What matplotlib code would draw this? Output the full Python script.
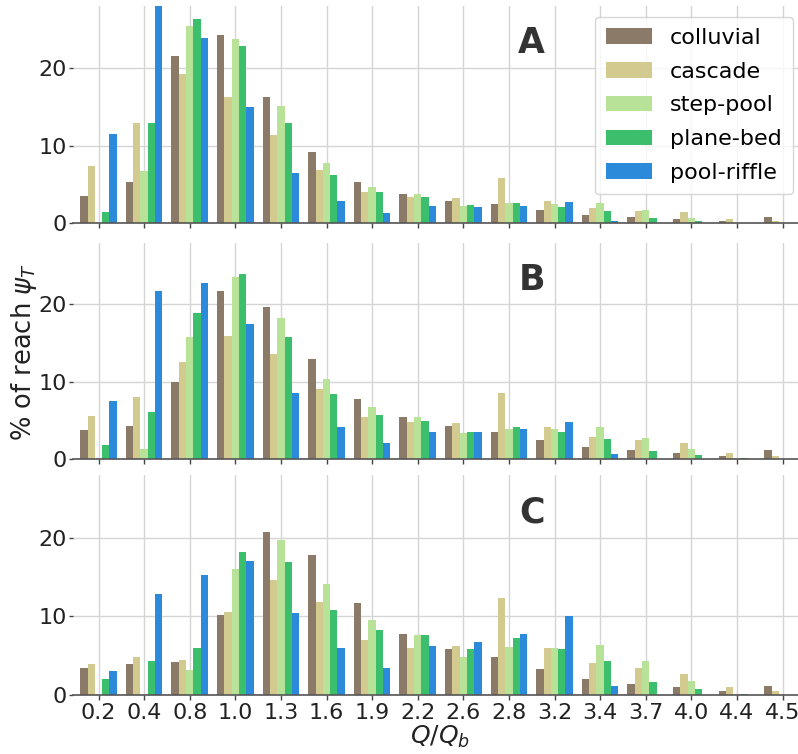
import numpy as np
import matplotlib
matplotlib.use("Agg")
import matplotlib.pyplot as plt

# Discharge classes (Q/Qb) on the shared x axis
categories = ["0.2", "0.4", "0.8", "1.0", "1.3", "1.6", "1.9", "2.2",
              "2.6", "2.8", "3.2", "3.4", "3.7", "4.0", "4.4", "4.5"]
series_names = ["colluvial", "cascade", "step-pool", "plane-bed", "pool-riffle"]
series_colors = ["#8c7a68", "#d3ca8f", "#b7e298", "#3bbf6c", "#2b8ad9"]

# Panel A
a_colluvial = [3.5, 5.3, 21.6, 24.2, 16.2, 9.2, 5.3, 3.7, 2.9, 2.4, 1.7, 1.0, 0.8, 0.55, 0.3, 0.8]
a_cascade = [7.4, 12.9, 19.2, 16.3, 11.4, 6.8, 4.0, 3.4, 3.2, 5.8, 2.8, 1.9, 1.6, 1.4, 0.5, 0.3]
a_step_pool = [0.0, 6.7, 25.4, 23.7, 15.1, 7.7, 4.7, 3.7, 2.2, 2.6, 2.5, 2.6, 1.7, 0.6, 0.0, 0.0]
a_plane_bed = [1.4, 12.9, 26.3, 22.9, 12.9, 6.2, 4.0, 3.3, 2.3, 2.6, 2.1, 1.5, 0.6, 0.3, 0.0, 0.0]
a_pool_riffle = [11.5, 28.8, 23.9, 15.0, 6.5, 2.9, 1.3, 2.2, 2.1, 2.2, 2.7, 0.3, 0.0, 0.0, 0.0, 0.0]

# Panel B
b_colluvial = [3.7, 4.2, 10.0, 21.7, 19.7, 12.9, 7.7, 5.4, 4.2, 3.5, 2.4, 1.5, 1.1, 0.8, 0.4, 1.1]
b_cascade = [5.6, 8.0, 12.6, 15.9, 13.6, 9.0, 5.4, 4.7, 4.6, 8.5, 4.1, 2.8, 2.4, 2.0, 0.8, 0.3]
b_step_pool = [0.0, 1.25, 15.8, 23.6, 18.2, 10.3, 6.7, 5.4, 3.3, 3.9, 3.9, 4.1, 2.7, 1.2, 0.1, 0.0]
b_plane_bed = [1.8, 6.1, 18.9, 23.9, 15.8, 8.4, 5.7, 4.9, 3.5, 4.1, 3.4, 2.5, 1.0, 0.5, 0.1, 0.0]
b_pool_riffle = [7.5, 21.8, 22.8, 17.5, 8.5, 4.1, 2.0, 3.5, 3.5, 3.8, 4.7, 0.6, 0.0, 0.0, 0.0, 0.0]

# Panel C
c_colluvial = [3.4, 4.0, 4.2, 10.2, 20.7, 17.8, 11.7, 7.8, 5.8, 4.9, 3.3, 2.0, 1.4, 1.0, 0.5, 1.2]
c_cascade = [4.0, 4.9, 4.4, 10.6, 14.6, 11.8, 7.0, 6.0, 6.2, 12.4, 6.0, 4.1, 3.4, 2.7, 1.0, 0.5]
c_step_pool = [0.0, 0.0, 3.2, 16.0, 19.7, 14.1, 9.6, 7.7, 4.9, 6.1, 6.0, 6.4, 4.3, 1.8, 0.1, 0.0]
c_plane_bed = [2.0, 4.3, 6.0, 18.2, 16.9, 10.8, 8.3, 7.7, 5.9, 7.2, 5.8, 4.3, 1.6, 0.8, 0.1, 0.0]
c_pool_riffle = [3.1, 12.8, 15.3, 17.1, 10.5, 6.0, 3.4, 6.2, 6.7, 7.8, 10.0, 1.15, 0.0, 0.0, 0.0, 0.0]

panels = [
    ("A", [a_colluvial, a_cascade, a_step_pool, a_plane_bed, a_pool_riffle]),
    ("B", [b_colluvial, b_cascade, b_step_pool, b_plane_bed, b_pool_riffle]),
    ("C", [c_colluvial, c_cascade, c_step_pool, c_plane_bed, c_pool_riffle]),
]

W, H = 798, 754
fig = plt.figure(figsize=(W / 100, H / 100), dpi=100)

# axes boxes in pixels: (top, bottom)
boxes = [(6, 223), (242.7, 458.7), (475, 695)]
x_left_px = 73.0
unit_px = 45.6
xlim = (-0.56, 15.5)
width_px = (xlim[1] - xlim[0]) * unit_px

x = np.arange(len(categories))
bar_w = 0.16
offsets = (np.arange(5) - 2) * bar_w

axes = []
for (label, data), (top, bot) in zip(panels, boxes):
    ax = fig.add_axes([x_left_px / W, 1 - bot / H, width_px / W, (bot - top) / H])
    axes.append(ax)
    ax.set_axisbelow(True)
    ax.grid(True, color="#d5d5d5", linewidth=1.0)
    for off, vals, name, col in zip(offsets, data, series_names, series_colors):
        ax.bar(x + off, vals, width=bar_w, color=col, label=name, linewidth=0)
    ax.set_xlim(*xlim)
    ax.set_ylim(0, 28)
    ax.set_yticks([0, 10, 20])
    ax.set_xticks(x)
    for side in ("top", "right", "left"):
        ax.spines[side].set_visible(False)
    ax.spines["bottom"].set_color("#555555")
    ax.spines["bottom"].set_linewidth(1.2)
    ax.tick_params(axis="both", labelsize=16, colors="#222222")
    ax.tick_params(axis="x", length=3.5, width=1.0, color="#444444", pad=2.5)
    ax.tick_params(axis="y", length=3.0, width=1.0, color="#444444", pad=1.5)
    if label == "C":
        ax.set_xticklabels(categories)
    else:
        ax.set_xticklabels([])
    ax.text(9.5, 23.2, label, fontsize=25, fontweight="bold", color="#333333",
            ha="center", va="center")

axes[0].legend(loc="upper right", bbox_to_anchor=(793 / W, 1 - 16.7 / H),
               bbox_transform=fig.transFigure, borderaxespad=0, fontsize=16,
               borderpad=0.5, labelspacing=0.62, handlelength=2.1,
               frameon=True, fancybox=True, framealpha=0.8, edgecolor="#cccccc")

fig.text(24 / W, 1 - 352 / H, r"% of reach $\psi_T$", rotation=90,
         fontsize=18.5, ha="center", va="center", color="#222222")
fig.text(440 / W, 1 - 737 / H, r"$Q/Q_b$", fontsize=18,
         ha="center", va="center", color="#222222")

fig.savefig("out.png", dpi=100)
